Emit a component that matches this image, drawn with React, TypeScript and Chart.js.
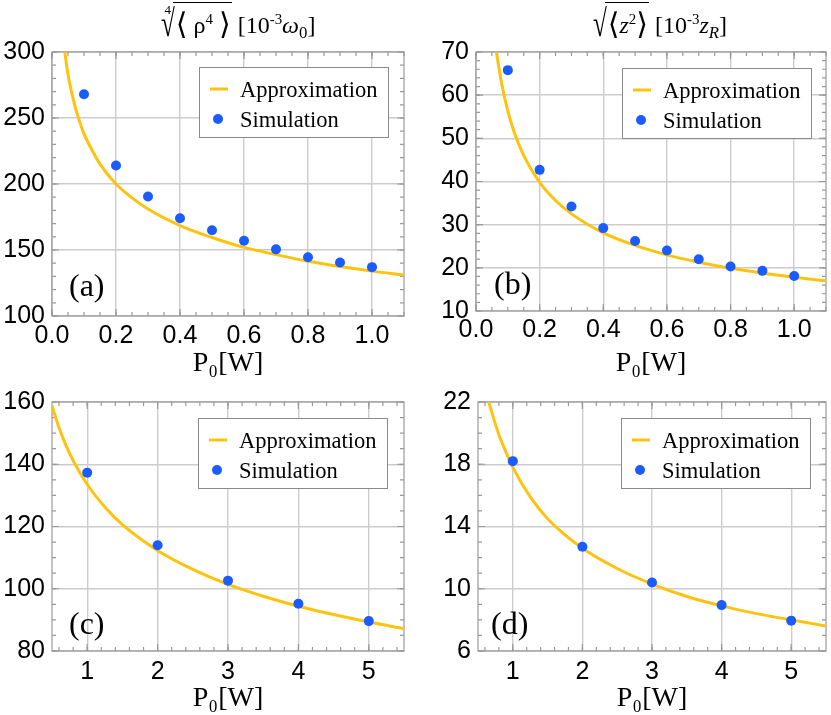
import React, { useEffect, useRef } from "react";
import { Chart, registerables } from "chart.js";
Chart.register(...registerables);

// ---------------- data ----------------
const simXTop = [0.1, 0.2, 0.3, 0.4, 0.5, 0.6, 0.7, 0.8, 0.9, 1.0];
const simYA = [268, 214, 190.5, 174, 165, 157, 150.5, 144.5, 140.5, 137];
const simYB = [65.8, 42.7, 34.2, 29.2, 26.2, 24.0, 22.0, 20.3, 19.3, 18.1];

const apxXA = [0.04, 0.05, 0.06, 0.07, 0.08, 0.1, 0.12, 0.15, 0.2, 0.25, 0.3, 0.4, 0.5, 0.6, 0.7, 0.8, 0.9, 1.0, 1.1];
const apxYA = [300, 283, 271, 260.5, 252, 238, 228, 215, 200, 189.5, 181, 168.5, 159.5, 152, 146.5, 141.5, 137.5, 134, 131];

const apxXB = [0.064, 0.07, 0.08, 0.1, 0.12, 0.15, 0.2, 0.25, 0.3, 0.4, 0.5, 0.6, 0.7, 0.8, 0.9, 1.0, 1.1];
const apxYB = [70, 67.3, 62.9, 56.3, 51.4, 46, 39.8, 35.6, 32.5, 28.1, 25.2, 23, 21.3, 19.9, 18.8, 17.8, 17];

const simXBottom = [1, 2, 3, 4, 5];
const simYC = [137.3, 114, 102.6, 95.2, 89.6];
const simYD = [18.2, 12.7, 10.4, 8.95, 7.95];

const apxXC = [0.5, 0.6, 0.7, 0.8, 1, 1.25, 1.5, 2, 2.5, 3, 3.5, 4, 4.5, 5, 5.5];
const apxYC = [158.8, 151.7, 146, 141.2, 133.5, 126.3, 120.6, 112.3, 106.2, 101.4, 97.6, 94.4, 91.7, 89.3, 87.2];

const apxXD = [0.655, 0.7, 0.8, 0.9, 1, 1.25, 1.5, 2, 2.5, 3, 3.5, 4, 4.5, 5, 5.5];
const apxYD = [22, 21.3, 19.9, 18.8, 17.8, 15.9, 14.5, 12.6, 11.3, 10.3, 9.5, 8.9, 8.4, 8.0, 7.6];

const xTicksTop = [0, 0.2, 0.4, 0.6, 0.8, 1.0];
const xTicksBottom = [1, 2, 3, 4, 5];
const yTicksA = [100, 150, 200, 250, 300];
const yTicksB = [10, 20, 30, 40, 50, 60, 70];
const yTicksC = [80, 100, 120, 140, 160];
const yTicksD = [6, 10, 14, 18, 22];

const seriesLabels = ["Approximation", "Simulation"];
const xTitle = "P₀[W]";

// ---------------- style ----------------
const ORANGE = "#ffc30f";
const BLUE = "#1a5cff";
const GRID = "#cccccc";
const FRAME = "#999999";
const serif = '"Liberation Serif", "Times New Roman", "DejaVu Serif", serif';
const sans = '"Liberation Sans", Arial, Helvetica, sans-serif';

const toPts = (xs: number[], ys: number[]) => xs.map((x, i) => ({ x, y: ys[i] }));

const framePlugin = {
  id: "frame",
  beforeDatasetsDraw(chart: any, _a: any, opts: any) {
    const { ctx, chartArea: a, scales } = chart;
    const x = scales.x, y = scales.y;
    ctx.save();
    ctx.strokeStyle = FRAME;
    ctx.lineWidth = 1.2;
    const vx = (v: number, len: number) => {
      const p = x.getPixelForValue(v);
      ctx.beginPath();
      ctx.moveTo(p, a.bottom); ctx.lineTo(p, a.bottom - len);
      ctx.moveTo(p, a.top); ctx.lineTo(p, a.top + len);
      ctx.stroke();
    };
    const hy = (v: number, len: number) => {
      const p = y.getPixelForValue(v);
      ctx.beginPath();
      ctx.moveTo(a.left, p); ctx.lineTo(a.left + len, p);
      ctx.moveTo(a.right, p); ctx.lineTo(a.right - len, p);
      ctx.stroke();
    };
    x.ticks.forEach((t: any) => vx(t.value, 7));
    y.ticks.forEach((t: any) => hy(t.value, 7));
    const xs = opts.xMinor, ys = opts.yMinor;
    for (let i = Math.ceil(x.min / xs - 1e-6); i * xs <= x.max + 1e-9; i++) vx(i * xs, 4);
    for (let i = Math.ceil(y.min / ys - 1e-6); i * ys <= y.max + 1e-9; i++) hy(i * ys, 4);
    ctx.strokeRect(a.left, a.top, a.right - a.left, a.bottom - a.top);
    ctx.restore();
  },
};

const legendPlugin = {
  id: "boxLegend",
  afterDatasetsDraw(chart: any, _a: any, opts: any) {
    const { ctx, chartArea: a } = chart;
    const w = 189, h = 70;
    const bx = a.right - opts.right - w;
    const by = a.top + opts.top;
    ctx.save();
    ctx.fillStyle = "#fff";
    ctx.fillRect(bx, by, w, h);
    ctx.strokeStyle = "#8a8a8a";
    ctx.lineWidth = 1;
    ctx.strokeRect(bx + 0.5, by + 0.5, w, h);
    chart.data.datasets.forEach((ds: any, i: number) => {
      const cy = by + 22 + i * 30;
      if (ds.showLine) {
        ctx.strokeStyle = ds.borderColor;
        ctx.lineWidth = 3;
        ctx.beginPath();
        ctx.moveTo(bx + 11, cy);
        ctx.lineTo(bx + 29, cy);
        ctx.stroke();
      } else {
        ctx.fillStyle = ds.backgroundColor;
        ctx.beginPath();
        ctx.arc(bx + 19, cy, 5, 0, Math.PI * 2);
        ctx.fill();
      }
      ctx.fillStyle = "#000";
      ctx.font = `22.5px ${serif}`;
      ctx.textBaseline = "alphabetic";
      ctx.textAlign = "left";
      ctx.fillText(ds.label, bx + 41, cy + 8);
    });
    // panel label
    ctx.font = `32px ${serif}`;
    ctx.textBaseline = "middle";
    ctx.fillStyle = "#000";
    ctx.fillText(opts.panel, a.left + opts.labelDx, a.bottom - opts.labelDy);
    ctx.restore();
  },
};

type Spec = {
  left: number; top: number; width: number; height: number;
  pad: { top: number; right: number; left: number; bottom: number };
  yWidth: number; xHeight: number; tickPad: number;
  xMin: number; xMax: number; yMin: number; yMax: number;
  xTicks: number[]; yTicks: number[]; xDec: number;
  xMinor: number; yMinor: number;
  apx: { x: number; y: number }[]; sim: { x: number; y: number }[];
  panel: string; labelDx: number; labelDy: number; legendTop: number; legendRight: number;
};

function Panel({ spec }: { spec: Spec }) {
  const ref = useRef<HTMLCanvasElement>(null);
  useEffect(() => {
    const chart = new Chart(ref.current as HTMLCanvasElement, {
      type: "scatter",
      data: {
        datasets: [
          {
            label: seriesLabels[0], data: spec.apx, showLine: true, borderColor: ORANGE,
            backgroundColor: ORANGE, borderWidth: 3, pointRadius: 0,
            cubicInterpolationMode: "monotone", order: 2,
          } as any,
          {
            label: seriesLabels[1], data: spec.sim, showLine: false, backgroundColor: BLUE,
            borderColor: BLUE, borderWidth: 0, pointRadius: 5, order: 1,
          } as any,
        ],
      },
      options: {
        animation: false,
        responsive: false,
        events: [],
        layout: { padding: spec.pad },
        plugins: {
          legend: { display: false },
          tooltip: { enabled: false },
          title: { display: false },
          frame: { xMinor: spec.xMinor, yMinor: spec.yMinor },
          boxLegend: {
            top: spec.legendTop, right: spec.legendRight, panel: spec.panel,
            labelDx: spec.labelDx, labelDy: spec.labelDy,
          },
        } as any,
        scales: {
          x: {
            type: "linear", min: spec.xMin, max: spec.xMax,
            afterFit: (s: any) => { s.height = spec.xHeight; },
            afterBuildTicks: (s: any) => { s.ticks = spec.xTicks.map((v) => ({ value: v })); },
            ticks: {
              font: { family: sans, size: 25 }, color: "#000", padding: spec.tickPad,
              maxRotation: 0, autoSkip: false,
              callback: (v: any) => Number(v).toFixed(spec.xDec),
            },
            grid: { color: GRID, lineWidth: 1.4, drawTicks: false },
            border: { display: false },
            title: {
              display: true, text: xTitle, color: "#000",
              font: { family: serif, size: 28 }, padding: { top: 0, bottom: 0 },
            },
          },
          y: {
            type: "linear", min: spec.yMin, max: spec.yMax,
            afterFit: (s: any) => { s.width = spec.yWidth; },
            afterBuildTicks: (s: any) => { s.ticks = spec.yTicks.map((v) => ({ value: v })); },
            ticks: {
              font: { family: sans, size: 25 }, color: "#000", padding: 7,
              autoSkip: false, callback: (v: any) => String(v),
            },
            grid: { color: GRID, lineWidth: 1.4, drawTicks: false },
            border: { display: false },
          },
        },
      } as any,
      plugins: [framePlugin, legendPlugin],
    });
    return () => chart.destroy();
  }, []);
  return (
    <canvas
      ref={ref}
      width={spec.width}
      height={spec.height}
      style={{ position: "absolute", left: spec.left, top: spec.top, width: spec.width, height: spec.height }}
    />
  );
}

const specs: Spec[] = [
  {
    left: 0, top: 0, width: 415, height: 380,
    pad: { top: 52, right: 11, left: 0, bottom: 0 }, yWidth: 52, xHeight: 64, tickPad: 5,
    xMin: 0, xMax: 1.1, yMin: 100, yMax: 300, xTicks: xTicksTop, yTicks: yTicksA, xDec: 1,
    xMinor: 0.05, yMinor: 10, apx: toPts(apxXA, apxYA), sim: toPts(simXTop, simYA),
    panel: "(a)", labelDx: 17, labelDy: 28, legendTop: 15, legendRight: 16,
  },
  {
    left: 415, top: 0, width: 416, height: 380,
    pad: { top: 52, right: 1, left: 0, bottom: 0 }, yWidth: 61, xHeight: 69, tickPad: 4,
    xMin: 0, xMax: 1.1, yMin: 10, yMax: 70, xTicks: xTicksTop, yTicks: yTicksB, xDec: 1,
    xMinor: 0.05, yMinor: 2, apx: toPts(apxXB, apxYB), sim: toPts(simXTop, simYB),
    panel: "(b)", labelDx: 18, labelDy: 25, legendTop: 16, legendRight: 15,
  },
  {
    left: 0, top: 380, width: 415, height: 335,
    pad: { top: 8, right: 11, left: 0, bottom: 0 }, yWidth: 52, xHeight: 64, tickPad: 6,
    xMin: 0.5, xMax: 5.5, yMin: 80, yMax: 160, xTicks: xTicksBottom, yTicks: yTicksC, xDec: 0,
    xMinor: 0.2, yMinor: 5, apx: toPts(apxXC, apxYC), sim: toPts(simXBottom, simYC),
    panel: "(c)", labelDx: 17, labelDy: 25, legendTop: 16, legendRight: 17,
  },
  {
    left: 415, top: 380, width: 416, height: 335,
    pad: { top: 7, right: 1, left: 0, bottom: 0 }, yWidth: 63, xHeight: 64, tickPad: 6,
    xMin: 0.5, xMax: 5.5, yMin: 6, yMax: 22, xTicks: xTicksBottom, yTicks: yTicksD, xDec: 0,
    xMinor: 0.2, yMinor: 1, apx: toPts(apxXD, apxYD), sim: toPts(simXBottom, simYD),
    panel: "(d)", labelDx: 13, labelDy: 25, legendTop: 16, legendRight: 16,
  },
];

const supS: React.CSSProperties = { fontSize: "0.62em", position: "relative", top: "-0.6em" };
const subS: React.CSSProperties = { fontSize: "0.7em", position: "relative", top: "0.3em" };
const radS: React.CSSProperties = {
  display: "inline-block", fontSize: 36, lineHeight: "36px", transform: "scale(0.7, 1.05)",
  position: "relative", top: 2, marginRight: -5, marginLeft: -3,
};
const vincS: React.CSSProperties = {
  display: "inline-block", borderTop: "1.5px solid #000", lineHeight: "24px",
  paddingTop: 8, paddingLeft: 3, paddingRight: 1,
};
const brS: React.CSSProperties = { fontSize: 30, position: "relative", top: 1 };

export default function App() {
  const titleBase: React.CSSProperties = {
    position: "absolute", top: 0, height: 50, lineHeight: "50px", textAlign: "center",
    whiteSpace: "nowrap", fontFamily: serif, fontSize: 24, color: "#000", zIndex: 2,
  };
  return (
    <div style={{ position: "fixed", left: 0, top: 0, width: 831, height: 715, background: "#fff", overflow: "hidden" }}>
      {specs.map((s) => <Panel key={s.panel} spec={s} />)}
      <div style={{ ...titleBase, left: 0, width: 480 }}>
        <span style={{ fontSize: 13, position: "relative", top: -19, marginRight: -10 }}>4</span>
        <span style={radS}>√</span>
        <span style={vincS}><span style={brS}>⟨</span> ρ<span style={supS}>4</span> <span style={brS}>⟩</span></span>
        <span> [10<span style={supS}>-3</span><i>ω</i><span style={subS}>0</span>]</span>
      </div>
      <div style={{ ...titleBase, left: 420, width: 480 }}>
        <span style={radS}>√</span>
        <span style={vincS}><span style={brS}>⟨</span><i>z</i><span style={supS}>2</span><span style={brS}>⟩</span></span>
        <span> [10<span style={supS}>-3</span><i>z</i><span style={{ ...subS, fontStyle: "italic" }}>R</span>]</span>
      </div>
    </div>
  );
}
